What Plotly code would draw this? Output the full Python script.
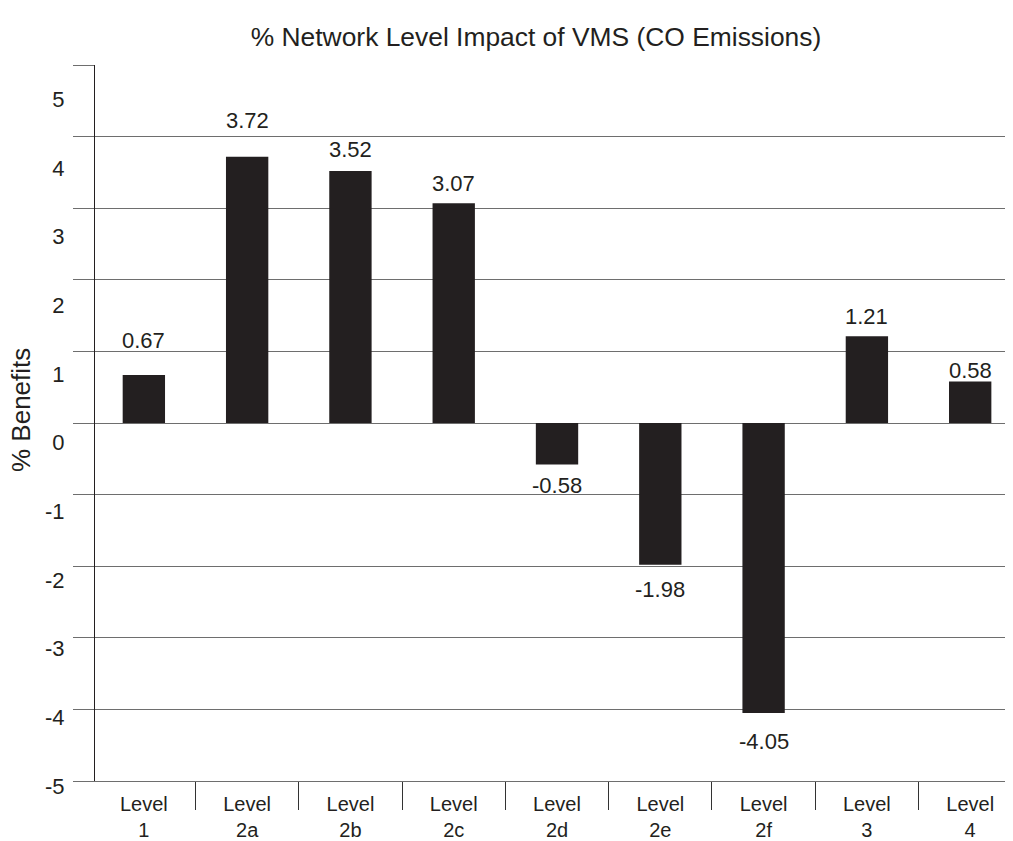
import plotly.graph_objects as go

categories = ["Level<br>1", "Level<br>2a", "Level<br>2b", "Level<br>2c", "Level<br>2d",
              "Level<br>2e", "Level<br>2f", "Level<br>3", "Level<br>4"]
values = [0.67, 3.72, 3.52, 3.07, -0.58, -1.98, -4.05, 1.21, 0.58]
y_tick_labels = [-5, -4, -3, -2, -1, 0, 1, 2, 3, 4, 5]

# label offsets (px) used only for styling the value labels
label_shift = [35, 36, 21, 20, -21, -25, -29, 20, 11]

FONT = "Liberation Sans, Arial, Helvetica, sans-serif"
INK = "#231f20"
GRID = "#6e6e6e"

idx = list(range(len(categories)))

fig = go.Figure()
fig.add_trace(go.Bar(
    x=idx, y=values, width=0.41,
    marker=dict(color=INK, line=dict(width=0)),
    hoverinfo="x+y", showlegend=False,
))
# empty helper trace so that the label axis (yaxis2) is drawn
fig.add_trace(go.Scatter(x=[], y=[], yaxis="y2", mode="markers",
                         showlegend=False, hoverinfo="skip"))

for i, v in enumerate(values):
    fig.add_annotation(
        x=i, y=v, xref="x", yref="y", text=f"{v:.2f}", showarrow=False,
        yshift=label_shift[i], yanchor="middle", xanchor="center",
        font=dict(family=FONT, size=22, color=INK),
    )

# y-axis title
fig.add_annotation(
    x=-0.0799, y=0.5248, xref="paper", yref="paper", text="% Benefits",
    textangle=-90, showarrow=False, xanchor="center", yanchor="middle",
    font=dict(family=FONT, size=26, color=INK),
)

fig.update_layout(
    width=1013, height=841,
    margin=dict(l=87, r=0, t=57, b=58),
    paper_bgcolor="white", plot_bgcolor="rgba(0,0,0,0)",
    font=dict(family=FONT, color=INK),
    title=dict(text="% Network Level Impact of VMS (CO Emissions)",
               x=528 / 1013, xanchor="center", xref="container",
               y=1 - 29 / 841, yref="container", yanchor="middle",
               font=dict(family=FONT, size=26.4, color=INK)),
    bargap=0.59,
    xaxis=dict(
        range=[-0.473, 8.492], tickvals=idx, ticktext=categories,
        showgrid=False, zeroline=False,
        showline=True, linecolor=GRID, linewidth=1,
        ticks="outside", ticklen=5, tickcolor="rgba(0,0,0,0)",
        tickfont=dict(family=FONT, size=20, color=INK),
        minor=dict(tick0=0.5, dtick=1, ticks="outside", ticklen=28,
                   tickcolor="#333333", tickwidth=1, showgrid=False),
    ),
    yaxis=dict(
        domain=[10 / 726, 1], range=[-5, 5], dtick=1,
        showgrid=True, gridcolor=GRID, gridwidth=1, zeroline=False,
        showline=True, linecolor=INK, linewidth=1,
        ticks="outside", ticklen=21, tickcolor=GRID,
        showticklabels=False,
    ),
    yaxis2=dict(
        domain=[0, 1], anchor="x", range=[-5.072, 5.5],
        tickvals=y_tick_labels, ticktext=[str(t) for t in y_tick_labels],
        showgrid=False, zeroline=False, showline=False,
        ticks="outside", ticklen=25, tickcolor="rgba(0,0,0,0)",
        tickfont=dict(family=FONT, size=22, color=INK),
    ),
)

fig.write_html("out.html")
